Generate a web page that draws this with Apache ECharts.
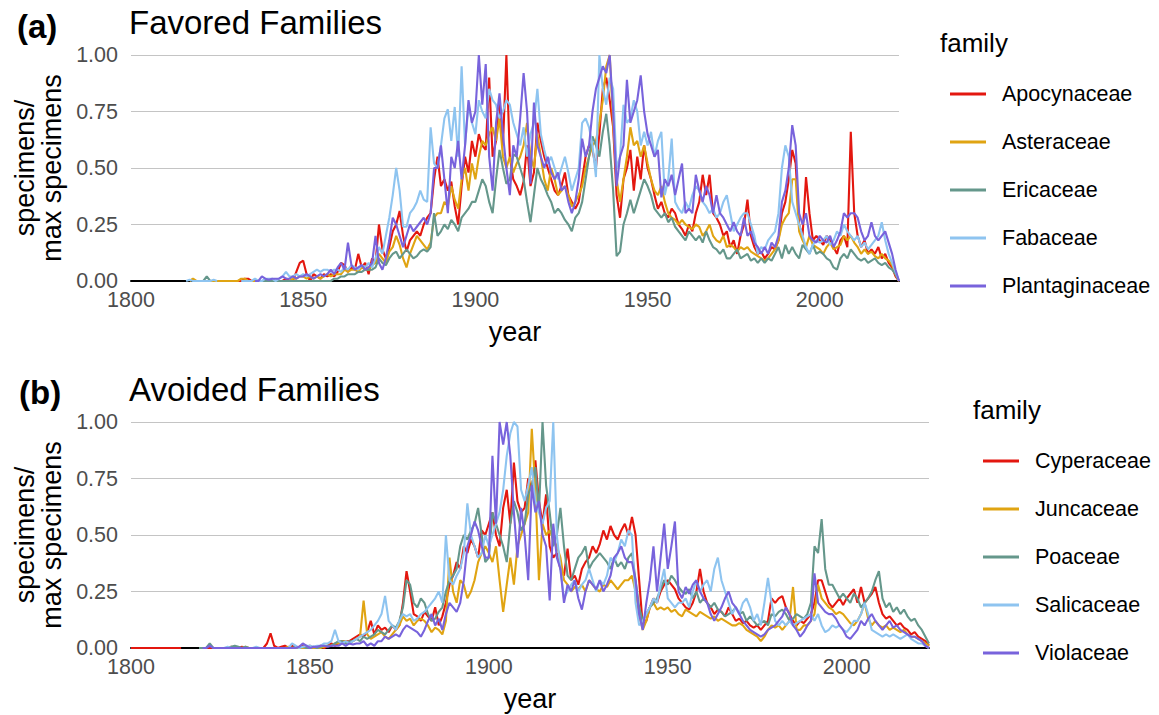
<!DOCTYPE html>
<html>
<head>
<meta charset="utf-8">
<title>Herbarium specimens by family</title>
<script src="https://cdn.jsdelivr.net/npm/echarts@6/dist/echarts.min.js"></script>
<style>
  html, body { margin: 0; padding: 0; background: #ffffff; }
  #chart { width: 1159px; height: 715px; }
</style>
</head>
<body>
<div id="chart"></div>
<script>
// Yearly specimen counts, each family scaled by its own maximum (1800–2023).
const years = Array.from({ length: 224 }, (_, i) => 1800 + i);
const xTickLabels = [1800, 1850, 1900, 1950, 2000];
const yTickValues = [0, 0.25, 0.5, 0.75, 1];

// ---- (a) Favored families ----
const favoredFamilies = ['Apocynaceae', 'Asteraceae', 'Ericaceae', 'Fabaceae', 'Plantaginaceae'];

const apocynaceae = [
  null, null, null, null, null, null, null, null, null, null,
  null, null, null, null, null, null, null, null, null, null,
  null, null, null, null, null, null, null, null, null, null,
  null, 0, 0, 0.01, 0.01, 0, 0, 0, 0, 0,
  0, 0, 0, 0, 0, 0.01, 0, 0, 0.04, 0.08,
  0.09, 0.03, 0, 0.03, 0.02, 0.01, 0.03, 0.02, 0.03, 0.02,
  0.04, 0.08, 0.07, 0.04, 0.06, 0.05, 0.12, 0.06, 0.08, 0.03,
  0.1, 0.08, 0.25, 0.14, 0.1, 0.15, 0.22, 0.25, 0.31, 0.2,
  0.13, 0.18, 0.2, 0.22, 0.2, 0.25, 0.28, 0.3, 0.45, 0.55,
  0.42, 0.45, 0.4, 0.44, 0.33, 0.25, 0.42, 0.55, 0.48, 0.62,
  0.55, 0.65, 0.6, 0.58, 0.9, 0.55, 0.62, 0.8, 0.6, 1.0,
  0.55, 0.45, 0.42, 0.38, 0.44, 0.6, 0.42, 0.48, 0.7, 0.62,
  0.55, 0.5, 0.45, 0.4, 0.38, 0.42, 0.48, 0.38, 0.35, 0.32,
  0.35, 0.45, 0.55, 0.6, 0.58, 0.5, 0.65, 0.85, 0.9, 0.8,
  0.68, 0.38, 0.28, 0.45, 0.5, 0.58, 0.4, 0.55, 0.45, 0.6,
  0.5, 0.45, 0.38, 0.32, 0.35, 0.3, 0.28, 0.32, 0.3, 0.25,
  0.23, 0.2, 0.25, 0.22, 0.3, 0.35, 0.47, 0.38, 0.47, 0.3,
  0.28, 0.25, 0.2, 0.22, 0.15, 0.18, 0.12, 0.2, 0.25, 0.36,
  0.2, 0.15, 0.12, 0.13, 0.1, 0.12, 0.15, 0.14, 0.18, 0.3,
  0.35, 0.45, 0.58, 0.52, 0.25, 0.2, 0.46, 0.3, 0.18, 0.2,
  0.18, 0.16, 0.2, 0.18, 0.15, 0.12, 0.18, 0.2, 0.15, 0.66,
  0.3, 0.2, 0.15, 0.18, 0.12, 0.14, 0.12, 0.15, 0.1, 0.12,
  0.08, 0.06, 0.02, 0
];

const asteraceae = [
  null, null, null, null, null, null, null, null, null, null,
  null, null, null, null, null, null, null, 0, 0.01, 0,
  0, 0, 0, 0, 0, 0, 0, 0, 0, 0,
  0, 0, 0.01, 0.01, 0, 0, 0, 0, 0, 0,
  0, 0, 0, 0, 0, 0, 0, 0.01, 0.01, 0.02,
  0.02, 0.01, 0.02, 0.01, 0.02, 0.01, 0.02, 0.03, 0.02, 0.03,
  0.03, 0.03, 0.05, 0.04, 0.05, 0.05, 0.04, 0.06, 0.05, 0.05,
  0.07, 0.08, 0.12, 0.1, 0.08, 0.13, 0.15, 0.2, 0.16, 0.1,
  0.06, 0.12, 0.16, 0.2, 0.18, 0.16, 0.14, 0.17, 0.28, 0.3,
  0.3, 0.35, 0.33, 0.42, 0.36, 0.32, 0.45, 0.5, 0.4, 0.52,
  0.45, 0.55, 0.62, 0.6, 0.65, 0.68, 0.62, 0.72, 0.55, 0.5,
  0.55, 0.48, 0.52, 0.55, 0.6, 0.7, 0.55, 0.5, 0.65, 0.55,
  0.45, 0.4, 0.5, 0.45, 0.38, 0.4, 0.42, 0.38, 0.33, 0.35,
  0.38, 0.42, 0.5, 0.55, 0.6, 0.62, 0.7, 0.8, 0.95, 1.0,
  0.7, 0.45, 0.35, 0.45, 0.55, 0.68, 0.6, 0.62, 0.55, 0.6,
  0.52, 0.45, 0.4, 0.38, 0.42, 0.35, 0.3, 0.28, 0.27, 0.25,
  0.27, 0.25, 0.24, 0.23, 0.25, 0.24, 0.2, 0.22, 0.25, 0.2,
  0.18, 0.17, 0.2, 0.15, 0.16, 0.15, 0.13, 0.15, 0.14, 0.15,
  0.13, 0.12, 0.11, 0.1, 0.09, 0.1, 0.12, 0.14, 0.18, 0.25,
  0.28, 0.3, 0.45, 0.45, 0.22, 0.18, 0.15, 0.2, 0.16, 0.15,
  0.14, 0.12, 0.15, 0.17, 0.14, 0.15, 0.16, 0.2, 0.18, 0.2,
  0.17, 0.15, 0.12, 0.14, 0.12, 0.13, 0.11, 0.1, 0.12, 0.1,
  0.09, 0.07, 0.03, 0
];

const ericaceae = [
  null, null, null, null, null, null, null, null, null, null,
  null, null, null, null, null, null, null, null, null, null,
  null, 0, 0.02, 0, null, null, null, null, null, null,
  null, null, null, null, null, null, 0, 0, 0, 0,
  0, 0, 0, 0, 0, 0, 0, 0, 0, 0,
  0, 0, 0, 0, 0, 0, 0, 0, 0, 0.01,
  0.01, 0.02, 0.02, 0.03, 0.03, 0.03, 0.04, 0.04, 0.05, 0.05,
  0.05, 0.06, 0.1, 0.08, 0.07, 0.1, 0.12, 0.13, 0.1, 0.12,
  0.14, 0.12, 0.1, 0.11, 0.13, 0.14, 0.13, 0.15, 0.3, 0.2,
  0.22, 0.25, 0.23, 0.27, 0.25, 0.22, 0.28, 0.3, 0.32, 0.35,
  0.35, 0.4, 0.45, 0.42, 0.35, 0.3, 0.45, 0.58, 0.5, 0.43,
  0.45, 0.56, 0.55, 0.5, 0.45, 0.35, 0.26, 0.38, 0.5, 0.45,
  0.42, 0.38, 0.35, 0.3, 0.32, 0.3, 0.27, 0.25, 0.22, 0.28,
  0.3, 0.35, 0.45, 0.55, 0.64, 0.6, 0.55, 0.66, 0.74, 0.6,
  0.4, 0.11, 0.13, 0.25, 0.3, 0.36, 0.3, 0.35, 0.4, 0.45,
  0.42, 0.38, 0.32, 0.3, 0.28, 0.3, 0.26, 0.28, 0.24, 0.22,
  0.2, 0.18, 0.22, 0.2, 0.18, 0.2, 0.17, 0.22, 0.18, 0.15,
  0.14, 0.12, 0.14, 0.1, 0.1, 0.12, 0.14, 0.1, 0.11, 0.12,
  0.09, 0.1, 0.08, 0.1, 0.08, 0.1, 0.09, 0.12, 0.15, 0.1,
  0.16, 0.12, 0.15, 0.12, 0.1, 0.16, 0.14, 0.12, 0.16, 0.12,
  0.13, 0.12, 0.1, 0.09, 0.06, 0.05, 0.1, 0.12, 0.1, 0.14,
  0.12, 0.1, 0.09, 0.1, 0.08, 0.09, 0.1, 0.08, 0.07, 0.08,
  0.06, 0.05, 0.03, 0
];

const fabaceae = [
  null, null, null, null, null, null, null, null, null, null,
  null, null, null, null, null, null, 0, 0.005, 0, 0,
  0, 0, 0, 0, 0.005, 0, null, null, null, null,
  null, null, 0, 0, 0, 0, 0.01, 0, 0, 0.01,
  0.01, 0.01, 0, 0.01, 0.02, 0.04, 0.02, 0.02, 0.03, 0.02,
  0.03, 0.02, 0.03, 0.04, 0.05, 0.04, 0.05, 0.05, 0.04, 0.05,
  0.05, 0.04, 0.06, 0.05, 0.07, 0.06, 0.05, 0.07, 0.06, 0.08,
  0.06, 0.1, 0.15, 0.12, 0.2, 0.28, 0.38, 0.5, 0.4, 0.24,
  0.24, 0.3, 0.32, 0.35, 0.4, 0.36, 0.35, 0.68, 0.52, 0.5,
  0.6, 0.72, 0.76, 0.62, 0.77, 0.55, 0.95, 0.6, 0.78, 0.7,
  0.65, 0.8, 0.75, 0.72, 0.85, 0.8, 0.78, 0.72, 0.75, 0.8,
  0.78, 0.7, 0.65, 0.6, 0.68, 0.55, 0.65, 0.7, 0.85, 0.65,
  0.58, 0.52, 0.55, 0.5, 0.45, 0.5, 0.55, 0.48, 0.4, 0.45,
  0.5, 0.7, 0.72, 0.68, 0.6, 0.46, 1.0, 0.85, 0.78, 0.9,
  0.85, 0.5, 0.55, 0.78, 0.7, 0.72, 0.8, 0.75, 0.6, 0.66,
  0.6, 0.66, 0.55, 0.62, 0.66, 0.38, 0.45, 0.63, 0.35, 0.32,
  0.3, 0.35, 0.32, 0.38, 0.42, 0.4, 0.35, 0.33, 0.3, 0.32,
  0.28, 0.3, 0.35, 0.38, 0.3, 0.22, 0.25, 0.28, 0.3, 0.3,
  0.25, 0.2, 0.12, 0.15, 0.14, 0.18, 0.2, 0.22, 0.3, 0.5,
  0.6, 0.55, 0.35, 0.3, 0.25, 0.2, 0.15, 0.12, 0.16, 0.18,
  0.17, 0.18, 0.2, 0.16, 0.18, 0.22, 0.2, 0.25, 0.22, 0.2,
  0.18, 0.2, 0.15, 0.17, 0.14, 0.16, 0.18, 0.2, 0.26, 0.18,
  0.12, 0.08, 0.04, 0
];

const plantaginaceae = [
  null, null, null, null, null, null, null, null, null, null,
  null, null, null, null, null, null, null, null, null, null,
  null, null, null, null, null, null, null, null, null, null,
  null, null, null, null, null, null, 0, 0, 0.02, 0.01,
  0.005, 0.01, 0.01, 0.01, 0.02, 0.01, 0.01, 0.02, 0.01, 0.02,
  0.02, 0.03, 0.02, 0.01, 0.02, 0.03, 0.02, 0.03, 0.05, 0.03,
  0.06, 0.08, 0.05, 0.17, 0.07, 0.05, 0.06, 0.07, 0.05, 0.06,
  0.08, 0.2, 0.08, 0.05, 0.1, 0.18, 0.28, 0.25, 0.2, 0.15,
  0.2, 0.25, 0.22, 0.24, 0.26, 0.28, 0.25, 0.3, 0.5, 0.5,
  0.6, 0.45, 0.3, 0.55, 0.5, 0.62, 0.45, 0.6, 0.8, 0.7,
  0.75, 1.0, 0.78, 0.96, 0.55, 0.4, 0.7, 0.83, 0.65, 0.5,
  0.38, 0.6, 0.55, 0.72, 0.92, 0.75, 0.43, 0.79, 0.6, 0.55,
  0.5, 0.55, 0.48, 0.45, 0.48, 0.4, 0.42, 0.35, 0.3, 0.35,
  0.45, 0.63, 0.55, 0.6, 0.75, 0.85, 0.9, 0.95, 0.92, 1.0,
  0.75, 0.42, 0.55, 0.6, 0.89, 0.7, 0.75, 0.8, 0.91, 0.75,
  0.65, 0.6, 0.55, 0.58, 0.37, 0.45, 0.42, 0.47, 0.38, 0.45,
  0.52, 0.3, 0.32, 0.3, 0.47, 0.4, 0.35, 0.42, 0.38, 0.3,
  0.38, 0.3, 0.28, 0.25, 0.22, 0.26, 0.22, 0.2, 0.28, 0.2,
  0.22, 0.17, 0.15, 0.12, 0.15, 0.12, 0.17, 0.15, 0.2, 0.35,
  0.4, 0.5, 0.69, 0.6, 0.3, 0.25, 0.3, 0.2, 0.18, 0.17,
  0.2, 0.18, 0.17, 0.2, 0.15, 0.18, 0.22, 0.3, 0.28, 0.3,
  0.3, 0.28, 0.22, 0.18, 0.2, 0.26, 0.2, 0.18, 0.2, 0.22,
  0.17, 0.12, 0.05, 0
];

// ---- (b) Avoided families ----
const avoidedFamilies = ['Cyperaceae', 'Juncaceae', 'Poaceae', 'Salicaceae', 'Violaceae'];

const cyperaceae = [
  0, 0, 0, 0, 0, 0, 0, 0, 0, 0,
  0, 0, 0, 0, 0, null, null, null, null, 0,
  0, 0, 0, 0, 0, 0, 0, 0, 0.005, 0,
  0, 0.005, 0, 0, 0, 0, 0, 0, 0.02, 0.065,
  0.01, 0, 0.005, 0.01, 0, 0.01, 0, 0.005, 0.01, 0,
  0.01, 0, 0.005, 0.01, 0, 0.01, 0.02, 0.01, 0.02, 0.03,
  0.03, 0.03, 0.04, 0.05, 0.06, 0.05, 0.07, 0.12, 0.06, 0.1,
  0.08, 0.09, 0.07, 0.1, 0.08, 0.1, 0.2, 0.34, 0.25, 0.15,
  0.14, 0.12, 0.16, 0.14, 0.12, 0.18, 0.1, 0.14, 0.2, 0.28,
  0.32, 0.38, 0.35, 0.45, 0.42, 0.48, 0.45, 0.4, 0.52, 0.5,
  0.55, 0.6, 0.5, 0.45, 0.62, 0.7, 0.55, 0.82, 0.65, 0.6,
  0.62, 0.75, 0.7, 0.83, 0.65, 0.55, 0.68, 0.45, 0.4, 0.42,
  0.35, 0.32, 0.44, 0.3, 0.32, 0.28, 0.35, 0.38, 0.4, 0.45,
  0.42, 0.46, 0.52, 0.48, 0.54, 0.5, 0.48, 0.52, 0.55, 0.5,
  0.58, 0.5, 0.3, 0.1, 0.12, 0.18, 0.22, 0.2, 0.25, 0.28,
  0.3, 0.28, 0.26, 0.22, 0.2, 0.18, 0.17, 0.2, 0.25, 0.35,
  0.25, 0.2, 0.18, 0.15, 0.17, 0.16, 0.14, 0.18, 0.15, 0.12,
  0.13, 0.11, 0.12, 0.1, 0.09, 0.1, 0.08, 0.1, 0.12, 0.22,
  0.2, 0.22, 0.23, 0.18, 0.15, 0.12, 0.1, 0.12, 0.11, 0.13,
  0.15, 0.2, 0.3, 0.3, 0.25, 0.2, 0.18, 0.2, 0.22, 0.19,
  0.22, 0.24, 0.26, 0.2, 0.27, 0.2, 0.22, 0.24, 0.27, 0.2,
  0.15, 0.13, 0.14, 0.12, 0.1, 0.11, 0.09, 0.08, 0.06, 0.07,
  0.05, 0.04, 0.03, 0.01
];

const juncaceae = [
  null, null, null, null, null, null, null, null, null, null,
  null, null, null, null, null, null, null, null, null, null,
  null, null, null, null, null, 0, 0, 0, 0, 0,
  0, 0, 0.005, 0, 0, 0, 0, 0, 0, 0,
  0, 0, 0, 0, 0.005, 0, 0, 0, 0, 0,
  0, 0, 0, 0, 0.005, 0.01, 0.01, 0.02, 0.02, 0.03,
  0.03, 0.02, 0.03, 0.04, 0.05, 0.21, 0.06, 0.04, 0.05, 0.06,
  0.07, 0.05, 0.04, 0.06, 0.08, 0.1, 0.14, 0.12, 0.13, 0.1,
  0.12, 0.13, 0.12, 0.1, 0.07, 0.09, 0.08, 0.06, 0.12, 0.4,
  0.25, 0.2, 0.3, 0.28, 0.22, 0.25, 0.3, 0.38, 0.42, 0.45,
  0.42, 0.38, 0.45, 0.3, 0.16, 0.28, 0.4, 0.28, 0.45, 0.5,
  0.55, 0.6, 0.97, 0.7, 0.3, 0.55, 0.5, 0.52, 0.48, 0.45,
  0.4, 0.3, 0.28, 0.25, 0.27, 0.26, 0.28, 0.25, 0.3, 0.28,
  0.26, 0.25, 0.28, 0.27, 0.3, 0.28, 0.26, 0.28, 0.3, 0.3,
  0.32, 0.25, 0.15, 0.08, 0.12, 0.18, 0.2, 0.17, 0.18, 0.17,
  0.18, 0.16, 0.17, 0.15, 0.14, 0.17, 0.16, 0.15, 0.14, 0.16,
  0.15, 0.14, 0.13, 0.14, 0.12, 0.13, 0.12, 0.11, 0.1, 0.1,
  0.11, 0.1, 0.08, 0.07, 0.06, 0.05, 0.03, 0.05, 0.08, 0.1,
  0.09, 0.1, 0.08, 0.1, 0.12, 0.27, 0.08, 0.08, 0.1, 0.1,
  0.12, 0.15, 0.28, 0.22, 0.2, 0.18, 0.17, 0.15, 0.16, 0.15,
  0.13, 0.11, 0.1, 0.12, 0.15, 0.2, 0.13, 0.1, 0.12, 0.1,
  0.09, 0.1, 0.08, 0.09, 0.08, 0.07, 0.08, 0.06, 0.05, 0.05,
  0.04, 0.03, 0.02, 0.01
];

const poaceae = [
  null, null, null, null, null, null, null, null, null, null,
  null, null, null, null, null, null, null, null, null, 0,
  0, 0, 0.02, 0, 0, 0, 0, 0, 0.005, 0.01,
  0.005, 0, 0.005, 0, 0, 0, 0, 0, 0, 0,
  0, 0, 0, 0, 0, 0, 0.005, 0, 0.005, 0,
  0, 0.005, 0, 0.005, 0.01, 0.01, 0.01, 0.02, 0.03, 0.03,
  0.02, 0.03, 0.03, 0.04, 0.03, 0.05, 0.04, 0.05, 0.06, 0.08,
  0.07, 0.06, 0.08, 0.1, 0.09, 0.12, 0.18, 0.3, 0.28, 0.2,
  0.18, 0.22, 0.2, 0.15, 0.12, 0.13, 0.16, 0.18, 0.25, 0.3,
  0.32, 0.35, 0.45, 0.5, 0.48, 0.52, 0.55, 0.62, 0.5, 0.38,
  0.4, 0.6, 0.55, 0.5, 0.45, 0.38, 0.55, 0.65, 0.6, 0.52,
  0.55, 0.68, 0.72, 0.8, 0.6, 1.0, 0.72, 0.6, 0.45, 0.5,
  0.62, 0.45, 0.32, 0.3, 0.35, 0.4, 0.42, 0.45, 0.35, 0.38,
  0.4, 0.42, 0.4, 0.38, 0.35, 0.4, 0.36, 0.38, 0.35, 0.4,
  0.42, 0.3, 0.18, 0.12, 0.15, 0.18, 0.2, 0.22, 0.26, 0.3,
  0.28, 0.32, 0.3, 0.27, 0.25, 0.24, 0.26, 0.22, 0.25, 0.2,
  0.22, 0.2, 0.18, 0.2, 0.17, 0.16, 0.14, 0.15, 0.16, 0.18,
  0.15, 0.16, 0.12, 0.14, 0.12, 0.1, 0.11, 0.12, 0.1, 0.15,
  0.14, 0.16, 0.17, 0.15, 0.12, 0.13, 0.15, 0.14, 0.13, 0.15,
  0.2, 0.45, 0.42, 0.57, 0.35, 0.28, 0.28, 0.25, 0.22, 0.24,
  0.22, 0.2, 0.24, 0.22, 0.18, 0.2, 0.22, 0.25, 0.3, 0.34,
  0.22, 0.18, 0.2, 0.16, 0.18, 0.15, 0.17, 0.14, 0.12, 0.13,
  0.1, 0.08, 0.05, 0.02
];

const salicaceae = [
  null, null, null, null, null, null, null, null, null, null,
  null, null, null, null, null, null, null, null, null, null,
  null, null, null, null, null, null, 0, 0.005, 0, 0,
  0, 0, 0, 0, 0, 0.005, 0, 0, 0, 0,
  0, 0, 0, 0, 0, 0.02, 0.01, 0, 0.005, 0.01,
  0.01, 0.005, 0.01, 0.01, 0.02, 0.02, 0.03, 0.08, 0.03, 0.02,
  0.03, 0.02, 0.03, 0.04, 0.05, 0.06, 0.07, 0.08, 0.1, 0.12,
  0.15, 0.23, 0.12, 0.1, 0.08, 0.12, 0.15, 0.14, 0.15, 0.12,
  0.13, 0.15, 0.16, 0.18, 0.2, 0.22, 0.25, 0.2, 0.5, 0.3,
  0.28, 0.32, 0.35, 0.42, 0.64, 0.5, 0.45, 0.4, 0.42, 0.5,
  0.45, 0.5, 0.55, 0.6, 0.7, 0.85, 0.95, 1.0, 0.98, 0.7,
  0.65, 0.72, 0.8, 0.65, 0.6, 0.55, 0.62, 0.65, 1.0, 0.5,
  0.35, 0.22, 0.25, 0.28, 0.3, 0.25, 0.28, 0.3, 0.35, 0.3,
  0.25, 0.3, 0.28, 0.32, 0.4, 0.38, 0.42, 0.48, 0.45, 0.52,
  0.5, 0.2, 0.1, 0.12, 0.15, 0.18, 0.22, 0.2, 0.28, 0.35,
  0.22, 0.2, 0.18, 0.2, 0.2, 0.22, 0.18, 0.25, 0.3, 0.25,
  0.28, 0.3, 0.25, 0.35, 0.4, 0.3, 0.25, 0.2, 0.15, 0.18,
  0.15, 0.2, 0.22, 0.18, 0.12, 0.15, 0.1, 0.2, 0.31, 0.2,
  0.12, 0.1, 0.12, 0.1, 0.12, 0.1, 0.11, 0.12, 0.13, 0.14,
  0.15, 0.12, 0.15, 0.1, 0.07, 0.08, 0.1, 0.09, 0.1, 0.08,
  0.07, 0.09, 0.12, 0.12, 0.15, 0.2, 0.15, 0.08, 0.07, 0.06,
  0.05, 0.06, 0.05, 0.06, 0.05, 0.04, 0.05, 0.06, 0.04, 0.03,
  0.02, 0.02, 0.01, 0
];

const violaceae = [
  null, null, null, null, null, null, null, null, null, null,
  null, null, null, null, null, null, null, null, null, null,
  0, 0, 0.01, 0, 0, 0, 0, 0, 0, 0,
  0, 0, 0, 0, 0, 0, 0, 0, 0, 0,
  0, 0, 0, 0, 0, 0, 0, 0.005, 0.02, 0.01,
  0, 0.005, 0.005, 0.01, 0.01, 0.005, 0.01, 0.01, 0.01, 0.02,
  0.01, 0.02, 0.015, 0.02, 0.02, 0.03, 0.01, 0.02, 0.01, 0.03,
  0.03, 0.05, 0.04, 0.05, 0.06, 0.05, 0.08, 0.1, 0.09, 0.08,
  0.07, 0.05, 0.08, 0.12, 0.15, 0.1, 0.13, 0.08, 0.15, 0.2,
  0.18, 0.16, 0.2, 0.3, 0.45, 0.5, 0.56, 0.52, 0.45, 0.4,
  0.4, 0.85, 0.55, 1.0, 0.9, 1.0, 0.85, 0.6, 0.4, 0.62,
  0.5, 0.3, 0.72, 0.6, 0.65, 0.5, 0.45, 0.21, 0.55, 0.4,
  0.35, 0.2, 0.28, 0.25, 0.3, 0.22, 0.17, 0.25, 0.3, 0.28,
  0.26, 0.3, 0.25, 0.28, 0.32, 0.4, 0.42, 0.45, 0.4, 0.38,
  0.38, 0.3, 0.15, 0.08, 0.2, 0.3, 0.45, 0.25, 0.4, 0.55,
  0.35, 0.45, 0.56, 0.25, 0.22, 0.27, 0.24, 0.28, 0.3, 0.25,
  0.22, 0.2, 0.15, 0.12, 0.15, 0.18, 0.22, 0.25, 0.2, 0.18,
  0.15, 0.12, 0.1, 0.08, 0.07, 0.06, 0.05, 0.06, 0.08, 0.09,
  0.1, 0.12, 0.14, 0.18, 0.15, 0.1, 0.08, 0.05, 0.07, 0.1,
  0.12, 0.33, 0.2, 0.18, 0.16, 0.15, 0.15, 0.13, 0.1, 0.08,
  0.05, 0.04, 0.06, 0.08, 0.12, 0.1, 0.13, 0.15, 0.12, 0.1,
  0.08, 0.1, 0.12, 0.09, 0.1, 0.08, 0.07, 0.06, 0.05, 0.05,
  0.04, 0.03, 0.01, 0
];

const palette = ['#e3170f', '#e0a412', '#65978b', '#8ec4f0', '#7863dc'];
const FONT = '"Liberation Sans", Arial, Helvetica, sans-serif';

function makeSeries(names, arrays, gridIdx) {
  return names.map((name, i) => ({
    name,
    type: 'line',
    xAxisIndex: gridIdx,
    yAxisIndex: gridIdx,
    showSymbol: false,
    symbol: 'none',
    connectNulls: false,
    animation: false,
    lineStyle: { width: 2.1, color: palette[i] },
    itemStyle: { color: palette[i] },
    emphasis: { disabled: true },
    data: years.map((yr, k) => [yr, arrays[i][k] == null ? '-' : arrays[i][k]])
  }));
}

function xAxisFor(gridIdx) {
  return {
    type: 'value', gridIndex: gridIdx, min: 1800, max: 2023, interval: 50,
    axisLine: { show: true, onZero: false, lineStyle: { color: '#000000', width: 2 } },
    axisTick: { show: false },
    splitLine: { show: false },
    axisLabel: {
      margin: 8, color: '#4d4d4d', fontSize: 21.5, fontFamily: FONT,
      formatter: v => (xTickLabels.includes(v) ? String(v) : '')
    },
    name: 'year', nameLocation: 'middle', nameGap: 37,
    nameTextStyle: { color: '#000000', fontSize: 27, fontFamily: FONT }
  };
}

function yAxisFor(gridIdx) {
  return {
    type: 'value', gridIndex: gridIdx, min: 0, max: 1, interval: 0.25,
    axisLine: { show: false },
    axisTick: { show: false },
    splitLine: { show: true, lineStyle: { color: '#c4c4c4', width: 1.2 } },
    axisLabel: {
      margin: 13, color: '#4d4d4d', fontSize: 21.5, fontFamily: FONT,
      formatter: v => (yTickValues.includes(v) ? v.toFixed(2) : '')
    }
  };
}

function legendFor(names, left, top) {
  return {
    orient: 'vertical', left, top,
    data: names,
    icon: 'rect', itemWidth: 36, itemHeight: 3, itemGap: 26,
    selectedMode: false,
    textStyle: { fontSize: 21.5, lineHeight: 22, color: '#000000', fontFamily: FONT, padding: [0, 0, 0, 11] }
  };
}

function label(text, x, y, size, weight, rotation) {
  return {
    type: 'text', x, y, rotation: rotation || 0, silent: true,
    style: {
      text, fill: '#000000', fontFamily: FONT, fontSize: size, fontWeight: weight || 'normal',
      align: rotation ? 'center' : 'left', verticalAlign: 'middle', lineHeight: 27
    }
  };
}

const chart = echarts.init(document.getElementById('chart'), null, { renderer: 'svg' });
chart.setOption({
  backgroundColor: '#ffffff',
  animation: false,
  grid: [
    { left: 131, top: 55, width: 768, height: 226 },
    { left: 131, top: 422, width: 798, height: 226 }
  ],
  xAxis: [xAxisFor(0), xAxisFor(1)],
  yAxis: [yAxisFor(0), yAxisFor(1)],
  legend: [
    legendFor(favoredFamilies, 945, 78),
    legendFor(avoidedFamilies, 978, 445)
  ],
  graphic: [
    label('(a)', 17, 26, 33, 'bold'),
    label('Favored Families', 129, 22, 33),
    label('family', 940, 43, 26),
    label('specimens/\nmax specimens', 38, 168, 27, 'normal', Math.PI / 2),
    label('(b)', 19, 392, 33, 'bold'),
    label('Avoided Families', 129, 389, 33),
    label('family', 973, 410, 26),
    label('specimens/\nmax specimens', 38, 535, 27, 'normal', Math.PI / 2)
  ],
  series: [
    ...makeSeries(favoredFamilies, [apocynaceae, asteraceae, ericaceae, fabaceae, plantaginaceae], 0),
    ...makeSeries(avoidedFamilies, [cyperaceae, juncaceae, poaceae, salicaceae, violaceae], 1)
  ]
});
</script>
</body>
</html>
